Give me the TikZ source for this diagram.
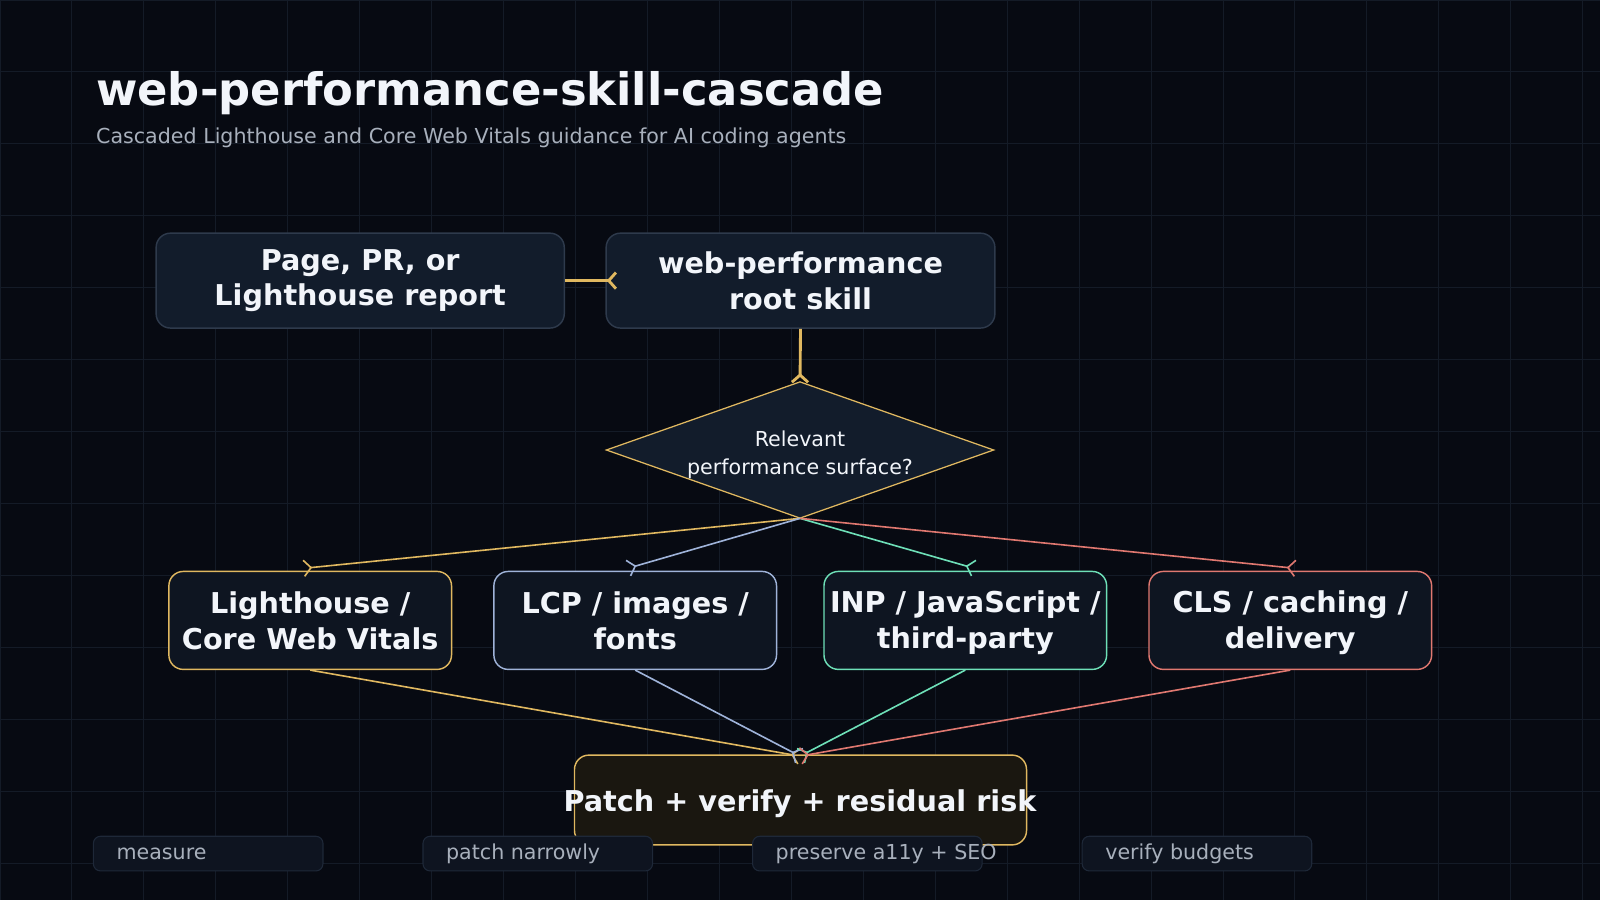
\documentclass[tikz,border=0pt]{standalone}
\usepackage{fontspec}
\setmainfont{DejaVu Sans}
\usetikzlibrary{arrows.meta,shapes.geometric}
\definecolor{bg}{HTML}{070A12}
\definecolor{gridc}{HTML}{141B27}
\definecolor{boxf}{HTML}{121C2B}
\definecolor{boxd}{HTML}{2E3A4C}
\definecolor{rowf}{HTML}{0E1521}
\definecolor{cy}{HTML}{E0B860}
\definecolor{cb}{HTML}{9FB3D9}
\definecolor{cg}{HTML}{6EE0B8}
\definecolor{cr}{HTML}{E07870}
\definecolor{txt}{HTML}{F2F5FA}
\definecolor{sub}{HTML}{A8B0BC}
\definecolor{tagf}{HTML}{0E1420}
\definecolor{tagd}{HTML}{1E2838}
\definecolor{finf}{HTML}{1A1710}
\begin{document}
\begin{tikzpicture}[x=0.02cm,y=-0.02cm,
  box/.style={draw=boxd,fill=boxf,rounded corners=8pt,line width=0.8pt,text=txt,font=\fontsize{16}{20}\selectfont\bfseries,align=center,inner sep=0pt},
  row/.style={fill=rowf,rounded corners=8pt,line width=0.8pt,text=txt,font=\fontsize{16}{20}\selectfont\bfseries,align=center,inner sep=0pt,minimum width=277*0.02cm,minimum height=96*0.02cm},
  tag/.style={draw=tagd,fill=tagf,rounded corners=4pt,line width=0.6pt,text=sub,font=\fontsize{11.5}{14}\selectfont,anchor=north west,minimum width=225*0.02cm,minimum height=34*0.02cm,inner sep=0pt},
  tagt/.style={text=sub,font=\fontsize{11.5}{14}\selectfont,anchor=west},
  tip/.style={-{Straight Barb[reversed,length=4pt,width=9pt]}},
  e/.style={line width=0.9pt}]
\fill[bg] (0,0) rectangle (1568,882);
\useasboundingbox (0,0) rectangle (1568,882);
\foreach \i in {0,...,22} {\draw[gridc,line width=0.5pt] (\i*70.5,0) -- (\i*70.5,882);}
\foreach \i in {0,...,12} {\draw[gridc,line width=0.5pt] (0,\i*70.5) -- (1568,\i*70.5);}
\node[anchor=west,text=txt,font=\fontsize{25}{30}\selectfont\bfseries] (title) at (88,91) {web-performance-skill-cascade};
\node[anchor=west,text=sub,font=\fontsize{11.5}{14}\selectfont] (subt) at (88,135) {Cascaded Lighthouse and Core Web Vitals guidance for AI coding agents};
\node[box,minimum width=400*0.02cm,minimum height=93*0.02cm] (in) at (353,275) {Page, PR, or\\Lighthouse report};
\node[box,minimum width=381*0.02cm,minimum height=93*0.02cm] (root) at (784.5,275) {web-performance\\root skill};
\node[diamond,draw=cy,fill=boxf,line width=0.7pt,minimum width=380*0.02cm,minimum height=134*0.02cm,aspect=2.84,inner sep=0pt] (dec) at (784,441) {};
\node[text=txt,align=center,font=\fontsize{11.5}{15.5}\selectfont] (dect) at (784,446) {Relevant\\performance surface?};
\node[row,draw=cy] (r1) at (304,608) {Lighthouse /\\Core Web Vitals};
\node[row,draw=cb] (r2) at (622.5,608) {LCP / images /\\fonts};
\node[row,draw=cg] (r3) at (946,608) {};
\node[text=txt,font=\fontsize{16}{20}\selectfont\bfseries,align=center] (r3t) at (946,610) {INP / JavaScript /\\third-party};
\node[row,draw=cr] (r4) at (1264.5,608) {};
\node[text=txt,font=\fontsize{16}{20}\selectfont\bfseries,align=center] (r4t) at (1264.5,610) {CLS / caching /\\delivery};
\node[draw=cy,fill=finf,rounded corners=8pt,line width=0.8pt,minimum width=443*0.02cm,minimum height=88*0.02cm] (fin) at (784.5,784) {};
\node[text=txt,font=\fontsize{16}{20}\selectfont\bfseries] (fint) at (784,788) {Patch + verify + residual risk};
\coordinate (fintop) at (784,741);
\coordinate (dbot) at (784,508);
\draw[cy,e,tip,line width=1.6pt] (in.east) -- (605,275);
\draw[cy,e,tip,line width=1.6pt] (root.south) -- (784,376);
\draw[cy,e,tip] (dbot) -- (297,557);
\draw[cb,e,tip] (dbot) -- (615,557);
\draw[cg,e,tip] (dbot) -- (955,557);
\draw[cr,e,tip] (dbot) -- (1270,557);
\draw[cy,e,tip] (r1.south) -- (fintop);
\draw[cb,e,tip] (r2.south) -- (fintop);
\draw[cg,e,tip] (r3.south) -- (fintop);
\draw[cr,e,tip] (r4.south) -- (fintop);
\node[tag] (t1) at (91,819) {}; \node[tagt] at (t1.west) [xshift=17*0.02cm] {measure};
\node[tag] (t2) at (414,819) {}; \node[tagt] at (t2.west) [xshift=17*0.02cm] {patch narrowly};
\node[tag] (t3) at (737,819) {}; \node[tagt] at (t3.west) [xshift=17*0.02cm] {preserve a11y + SEO};
\node[tag] (t4) at (1060,819) {}; \node[tagt] at (t4.west) [xshift=17*0.02cm] {verify budgets};
\end{tikzpicture}
\end{document}
